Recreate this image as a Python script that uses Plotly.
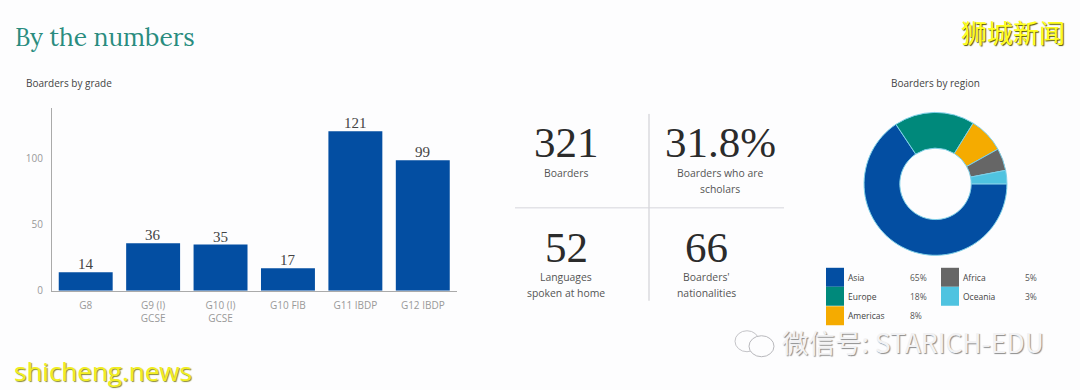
import plotly.graph_objects as go

W, H = 1080, 390
DRAWN_H = 383.3  # height the page actually paints the figure at

grades = ["G8", "G9 (I)<br>GCSE", "G10 (I)<br>GCSE", "G10 FIB", "G11 IBDP", "G12 IBDP"]
boarders = [14, 36, 35, 17, 121, 99]
y_ticks = [0, 50, 100]

regions = ["Asia", "Europe", "Americas", "Africa", "Oceania"]
region_pct = [65, 18, 8, 5, 3]
region_colors = ["#034EA2", "#00897B", "#F5AB00", "#666666", "#4FC3E0"]

stat_numbers = ["321", "31.8%", "52", "66"]
stat_labels = [["Boarders"], ["Boarders who are", "scholars"],
               ["Languages", "spoken at home"], ["Boarders'", "nationalities"]]

SANS = "Open Sans"
SERIF = "Liberation Serif"


def px(x):
    return x / W


def py(y):
    return 1 - y / DRAWN_H


fig = go.Figure()
fig.add_trace(go.Bar(
    x=grades, y=boarders, marker=dict(color="#034EA2", line_width=0), showlegend=False,
))
fig.add_trace(go.Pie(
    labels=regions, values=region_pct, sort=False, direction="clockwise", rotation=90,
    hole=0.5, marker=dict(colors=region_colors, line=dict(color="#7fd0e8", width=1)),
    textinfo="none", showlegend=False,
    domain=dict(x=[px(864), px(1007)], y=[py(255.5), py(112.5)]),
))

ann = []

for g, v in zip(grades, boarders):
    ann.append(dict(x=g, y=v, xref="x", yref="y", text=str(v), showarrow=False,
                    yanchor="bottom", yshift=-2,
                    font=dict(family=SERIF, size=15, color="#444444")))


def text(x, y, s, size, color, family=SANS, anchor="center", **font):
    ann.append(dict(x=px(x), y=py(y), xref="paper", yref="paper", text=s, showarrow=False,
                    xanchor=anchor, yanchor="middle", align=anchor,
                    font=dict(family=family, size=size, color=color, **font)))


text(13, 37, "By the numbers", 24.6, "#2A8C7F", family="Lora, " + SERIF, anchor="left")
text(24, 83, "Boarders by grade", 10, "#444444", anchor="left")
text(935.5, 83, "Boarders by region", 10, "#444444")

num_x = [566, 720, 566, 706]
num_y = [143, 143, 248, 248]
lab_y = [173, 173, 277, 277]
for num, lines, nx, ny, ly in zip(stat_numbers, stat_labels, num_x, num_y, lab_y):
    text(nx, ny, num, 43, "#2b2b2b", family=SERIF)
    for i, line in enumerate(lines):
        text(nx, ly + i * 16, line, 10.4, "#555555")

shapes = [
    dict(type="line", xref="paper", yref="paper", x0=px(649), x1=px(649), y0=py(114), y1=py(301),
         line=dict(color="#c9c9cf", width=1)),
    dict(type="line", xref="paper", yref="paper", x0=px(515), x1=px(784), y0=py(208), y1=py(208),
         line=dict(color="#d5d5dc", width=1)),
]

# legend: three rows on the left, two on the right
slots = [(826, 277.5), (826, 296.5), (826, 316), (941, 277.5), (941, 296.5)]
for name, pct, col, (sx, cy) in zip(regions, region_pct, region_colors, slots):
    shapes.append(dict(type="rect", xref="paper", yref="paper", x0=px(sx), x1=px(sx + 18),
                       y0=py(cy + 9.5), y1=py(cy - 9.5), fillcolor=col, line_width=0))
    text(sx + 20, cy, name, 8.5, "#444444", anchor="left")
    text(sx + 82, cy, f"{pct}%", 8.5, "#555555", anchor="left")

# watermarks
text(12, 371, "shicheng.news", 26, "#F2EE20", family=SANS, anchor="left",
     shadow="1px 1px 1px #8a8a30")
text(1013, 32, "狮城新闻", 26, "#FFFF20", family="Noto Sans CJK SC",
     shadow="1px 1px 1px #555500")
text(913, 342, "微信号: STARICH-EDU", 26.5, "#f2f2f4", family="Noto Sans CJK SC",
     shadow="1px 1px 1px #8c8c8c")
shapes += [
    dict(type="circle", xref="paper", yref="paper", x0=px(735), x1=px(759), y0=py(352), y1=py(331),
         line=dict(color="#c4c4c8", width=1)),
    dict(type="circle", xref="paper", yref="paper", x0=px(749), x1=px(774), y0=py(357), y1=py(336),
         fillcolor="#fdfdfe", line=dict(color="#b8b8bc", width=1)),
]

fig.update_layout(
    width=W, height=H, margin=dict(l=0, r=0, t=0, b=0), autosize=False,
    paper_bgcolor="#fdfdfe", plot_bgcolor="rgba(0,0,0,0)",
    bargap=0.2, annotations=ann, shapes=shapes,
    xaxis=dict(domain=[px(52), px(456.5)], showgrid=False, showline=True, linecolor="#aaaaaa",
               ticks="", tickfont=dict(family=SANS, size=10, color="#999999"), fixedrange=True,
               tickangle=0, ticklabelstandoff=5),
    yaxis=dict(domain=[py(291), py(108)], range=[0, 138.6], showgrid=False, zeroline=False,
               showline=True, linecolor="#aaaaaa", ticks="", tickvals=y_ticks,
               tickfont=dict(family=SANS, size=10, color="#999999"), ticklabelstandoff=6),
)

fig.write_html("out.html", config=dict(displayModeBar=False, responsive=False),
               default_width="1080px", default_height="390px",
               post_script="document.documentElement.style.overflow='hidden';document.body.style.margin='0';")
